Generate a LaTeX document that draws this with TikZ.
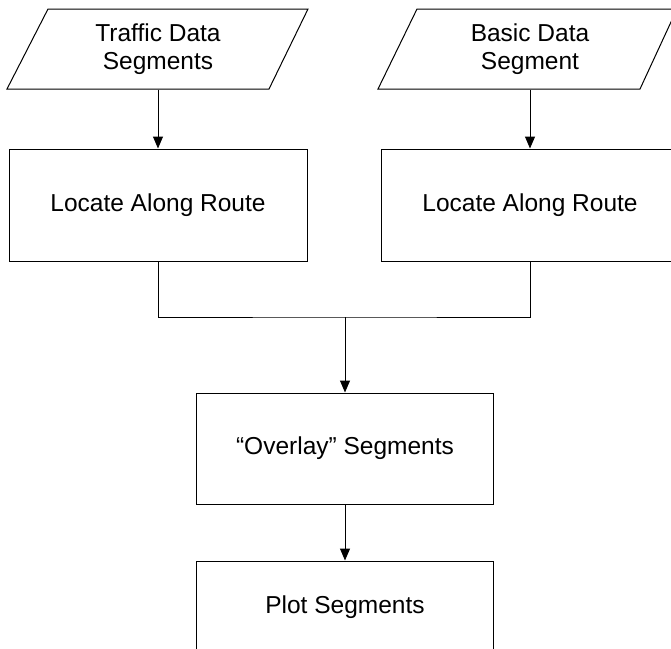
\documentclass[tikz,border=0pt]{standalone}
\usepackage{fontspec}
\setmainfont{Liberation Sans}
\usetikzlibrary{arrows.meta}
\begin{document}
\begin{tikzpicture}[x=1pt,y=-1pt,
  line width=1pt,
  txt/.style={align=center,font=\fontsize{24.5}{28}\selectfont,inner sep=0pt},
  iobox/.style={txt,minimum width=262pt,minimum height=80pt},
  procbox/.style={txt,draw,minimum width=298pt,minimum height=112pt},
  smallbox/.style={txt,draw,minimum width=297pt,minimum height=111pt},
  lastbox/.style={txt,draw,minimum width=297pt,minimum height=93pt},
  flow/.style={-{Triangle[width=10pt,length=12pt]}}]
\useasboundingbox (0,0) rectangle (671,648);
% input parallelograms
\node[iobox] (tds) at (158,49) {Traffic Data\\Segments};
\draw ([shift={(-110,-40)}]tds.center) -- ([shift={(150,-40)}]tds.center)
  -- ([shift={(111,40)}]tds.center) -- ([shift={(-151,40)}]tds.center) -- cycle;
\node[iobox] (bds) at (530,49) {Basic Data\\Segment};
\draw ([shift={(-113,-40)}]bds.center) -- ([shift={(147,-40)}]bds.center)
  -- ([shift={(110,40)}]bds.center) -- ([shift={(-152,40)}]bds.center) -- cycle;
% process boxes
\node[procbox] (loc1) at (158,205) {Locate Along Route};
\node[procbox] (loc2) at (530,205) {Locate Along Route};
\node[smallbox] (ovl) at (345,448.5) {“Overlay” Segments};
\node[lastbox] (plot) at (345,607.5) {Plot Segments};
% connectors
\draw[flow] (tds.south) -- (loc1.north);
\draw[flow] (bds.south) -- (loc2.north);
\coordinate (join) at (345,317);
\draw (loc1.south) |- (join) -| (loc2.south);
\draw[flow] (join) -- (ovl.north);
\draw[flow] (ovl.south) -- (plot.north);
\end{tikzpicture}
\end{document}
